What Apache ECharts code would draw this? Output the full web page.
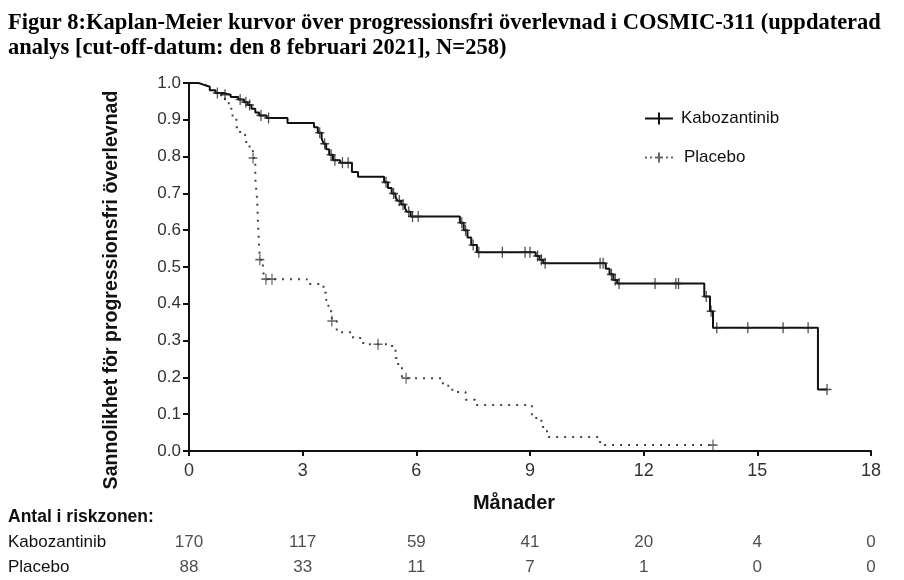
<!DOCTYPE html>
<html>
<head>
<meta charset="utf-8">
<title>Figur 8</title>
<script src="https://cdn.jsdelivr.net/npm/echarts@6/dist/echarts.min.js"></script>
<style>
    html, body { margin: 0; padding: 0; background: #fff; }
    #main { width: 904px; height: 580px; }
</style>
</head>
<body>
<div id="main"></div>
<script>
// Kaplan-Meier steg: [månad, sannolikhet efter händelsen]
var kaboSteps = [
    [0, 1.0], [0.25, 0.995], [0.4, 0.99], [0.55, 0.98], [0.7, 0.973], [0.9, 0.968],
    [1.1, 0.962], [1.3, 0.955], [1.45, 0.948], [1.55, 0.94], [1.65, 0.93], [1.75, 0.92],
    [1.85, 0.912], [2.05, 0.905], [2.6, 0.891], [3.3, 0.88], [3.4, 0.865], [3.5, 0.85],
    [3.55, 0.835], [3.62, 0.82], [3.7, 0.805], [3.8, 0.79], [3.99, 0.783], [4.3, 0.758],
    [4.46, 0.745], [5.15, 0.73], [5.25, 0.715], [5.35, 0.70], [5.45, 0.69], [5.5, 0.68],
    [5.6, 0.67], [5.7, 0.66], [5.75, 0.65], [5.85, 0.637], [7.15, 0.62], [7.25, 0.60],
    [7.35, 0.58], [7.45, 0.56], [7.6, 0.54], [9.15, 0.53], [9.25, 0.52], [9.35, 0.51],
    [11.0, 0.495], [11.1, 0.48], [11.2, 0.465], [11.3, 0.455], [13.6, 0.42], [13.75, 0.38],
    [13.83, 0.335], [16.6, 0.167], [16.84, 0.167]
];
var kaboCensor = [
    [0.75, 0.973], [0.95, 0.968], [1.35, 0.955], [1.5, 0.948], [1.6, 0.94], [1.9, 0.912],
    [2.1, 0.905], [3.45, 0.865], [3.58, 0.835], [3.75, 0.805], [3.85, 0.79], [4.05, 0.783],
    [4.2, 0.783], [5.2, 0.73], [5.4, 0.70], [5.55, 0.68], [5.65, 0.67], [5.8, 0.65],
    [5.9, 0.637], [6.05, 0.637], [7.2, 0.62], [7.3, 0.60], [7.5, 0.56], [7.65, 0.54],
    [8.27, 0.54], [8.87, 0.54], [9.0, 0.54], [9.2, 0.53], [9.3, 0.52], [9.4, 0.51],
    [10.85, 0.51], [10.93, 0.51], [11.15, 0.48], [11.25, 0.465], [11.35, 0.455],
    [12.3, 0.455], [12.85, 0.455], [12.92, 0.455], [13.65, 0.42], [13.78, 0.38],
    [13.93, 0.335], [14.75, 0.335], [15.68, 0.335], [16.34, 0.335], [16.84, 0.167]
];
var placeboSteps = [
    [0, 1.0], [0.25, 0.995], [0.4, 0.99], [0.55, 0.98], [0.7, 0.973], [0.85, 0.965],
    [0.95, 0.953], [1.05, 0.93], [1.15, 0.905], [1.25, 0.88], [1.35, 0.86], [1.48, 0.84],
    [1.6, 0.815], [1.69, 0.796], [1.75, 0.74], [1.8, 0.68], [1.82, 0.62], [1.85, 0.56],
    [1.87, 0.52], [1.95, 0.49], [2.0, 0.467], [3.11, 0.454], [3.55, 0.43], [3.62, 0.41],
    [3.68, 0.38], [3.77, 0.353], [3.9, 0.323], [4.33, 0.307], [4.6, 0.29], [5.36, 0.276],
    [5.45, 0.253], [5.52, 0.228], [5.62, 0.198], [6.7, 0.177], [6.95, 0.16], [7.3, 0.139],
    [7.55, 0.125], [9.05, 0.09], [9.3, 0.065], [9.45, 0.038], [10.85, 0.016], [13.83, 0.016]
];
var placeboCensor = [
    [1.69, 0.796], [1.87, 0.52], [2.03, 0.467], [2.19, 0.467], [3.77, 0.353],
    [4.99, 0.29], [5.73, 0.198], [13.83, 0.016]
];

// Antal i riskzonen
var riskTimes = [0, 3, 6, 9, 12, 15, 18];
var riskKabo = [170, 117, 59, 41, 20, 4, 0];
var riskPlacebo = [88, 33, 11, 7, 1, 0, 0];
var riskRows = ['Kabozantinib', 'Placebo'];

var titleLines = [
    'Figur 8:Kaplan-Meier kurvor över progressionsfri överlevnad i COSMIC-311 (uppdaterad',
    'analys [cut-off-datum: den 8 februari 2021], N=258)'
];

var plusIcon = 'path://M0,4.3H10V5.7H0Z M4.3,0H5.7V10H4.3Z';
var font = 'Liberation Sans, Arial, sans-serif';
var titleFont = 'bold 22.5px "Liberation Serif", "Times New Roman", serif';

var riskData = [];
riskTimes.forEach(function (t, i) {
    riskData.push([t, riskRows[0], riskKabo[i]]);
    riskData.push([t, riskRows[1], riskPlacebo[i]]);
});

var chart = echarts.init(document.getElementById('main'));
chart.setOption({
    animation: false,
    backgroundColor: '#fff',
    textStyle: { fontFamily: font },
    grid: [
        { left: 189, right: 33, top: 83, bottom: 129 },
        { left: 189, right: 33, top: 530, height: 50 }
    ],
    xAxis: [{
        gridIndex: 0, type: 'value', min: 0, max: 18, interval: 3,
        axisLine: { onZero: false, lineStyle: { color: '#111', width: 2 } },
        axisTick: { show: true, length: 5, lineStyle: { color: '#111', width: 2 } },
        axisLabel: { color: '#333', fontSize: 18, margin: 11 },
        splitLine: { show: false }
    }, {
        gridIndex: 1, type: 'value', min: 0, max: 18, show: false
    }],
    yAxis: [{
        gridIndex: 0, type: 'value', min: 0, max: 1, interval: 0.1,
        axisLine: { show: true, lineStyle: { color: '#111', width: 2 } },
        axisTick: { show: true, length: 6, lineStyle: { color: '#111', width: 2 } },
        axisLabel: { color: '#333', fontSize: 17, margin: 8,
            formatter: function (v) { return v.toFixed(1); } },
        splitLine: { show: false }
    }, {
        gridIndex: 1, type: 'category', data: riskRows, inverse: true,
        axisLine: { show: false }, axisTick: { show: false },
        axisLabel: { align: 'left', margin: 181, fontSize: 17, color: '#111' }
    }],
    legend: {
        orient: 'vertical', left: 640, top: 105,
        itemWidth: 28, itemHeight: 12, itemGap: 22,
        textStyle: { fontSize: 17, color: '#111', padding: [0, 0, 0, 3] },
        itemStyle: { borderWidth: 0 },
        data: [
            { name: 'Kabozantinib', icon: 'path://M0,5H28V7H0Z M13,0H15V12H13Z',
              itemStyle: { color: '#111' } },
            { name: 'Placebo', icon: 'path://M0,5h2v2h-2z M5,5h2v2h-2z M10,5H18V7H10Z M13,1H15V11H13Z M21,5h2v2h-2z M26,5h2v2h-2z',
              itemStyle: { color: '#666' }, textStyle: { padding: [0, 0, 0, 6] } }
        ]
    },
    graphic: [
        { type: 'text', left: 8, top: 12,
          style: { text: titleLines[0], font: titleFont, fill: '#000' } },
        { type: 'text', left: 8, top: 37,
          style: { text: titleLines[1], font: titleFont, fill: '#000' } },
        { type: 'text', x: 112, y: 290, rotation: Math.PI / 2,
          style: { text: 'Sannolikhet för progressionsfri överlevnad', font: 'bold 19.5px "Liberation Sans", Arial, sans-serif',
                   fill: '#111', align: 'center', verticalAlign: 'middle' } },
        { type: 'text', x: 514, y: 503,
          style: { text: 'Månader', font: 'bold 20px "Liberation Sans", Arial, sans-serif',
                   fill: '#111', align: 'center', verticalAlign: 'middle' } },
        { type: 'text', x: 8, y: 517,
          style: { text: 'Antal i riskzonen:', font: 'bold 17.5px "Liberation Sans", Arial, sans-serif',
                   fill: '#111', align: 'left', verticalAlign: 'middle' } }
    ],
    series: [{
        name: 'Kabozantinib', type: 'line', step: 'end', showSymbol: false,
        xAxisIndex: 0, yAxisIndex: 0, data: kaboSteps,
        lineStyle: { color: '#111', width: 2 }, itemStyle: { color: '#111' }, z: 3
    }, {
        name: 'Placebo', type: 'line', step: 'end', showSymbol: false,
        xAxisIndex: 0, yAxisIndex: 0, data: placeboSteps,
        lineStyle: { color: '#444', width: 2, type: [2, 6] }, itemStyle: { color: '#444' }, z: 2
    }, {
        name: 'Kabozantinib censur', type: 'scatter', symbol: plusIcon, symbolSize: [9, 11],
        xAxisIndex: 0, yAxisIndex: 0, data: kaboCensor,
        itemStyle: { color: '#222' }, z: 4
    }, {
        name: 'Placebo censur', type: 'scatter', symbol: plusIcon, symbolSize: [9, 11],
        xAxisIndex: 0, yAxisIndex: 0, data: placeboCensor,
        itemStyle: { color: '#444' }, z: 4
    }, {
        name: 'Antal i riskzonen', type: 'scatter', symbolSize: 1,
        xAxisIndex: 1, yAxisIndex: 1, data: riskData,
        itemStyle: { color: 'rgba(0,0,0,0)' },
        label: { show: true, position: 'inside', fontSize: 17, color: '#222',
                 formatter: function (p) { return p.value[2]; } }
    }]
});
</script>
</body>
</html>
